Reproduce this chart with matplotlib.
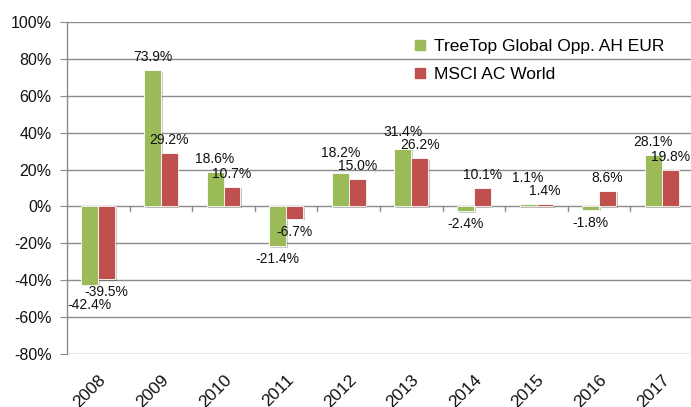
import matplotlib
matplotlib.use("Agg")
import matplotlib.pyplot as plt
import matplotlib.patheffects as pe
from matplotlib.lines import Line2D
import numpy as np

# --- data ---
years = ["2008", "2009", "2010", "2011", "2012", "2013", "2014", "2015", "2016", "2017"]
treetop = [-42.4, 73.9, 18.6, -21.4, 18.2, 31.4, -2.4, 1.1, -1.8, 28.1]
msci = [-39.5, 29.2, 10.7, -6.7, 15.0, 26.2, 10.1, 1.4, 8.6, 19.8]
series_names = ["TreeTop Global Opp. AH EUR", "MSCI AC World"]
y_ticks = [-80, -60, -40, -20, 0, 20, 40, 60, 80, 100]

GREEN = "#9BBB59"
RED = "#C0504D"
GRID = "#8C8C8C"

plt.rcParams['font.family'] = ['Liberation Sans', 'DejaVu Sans']

fig = plt.figure(figsize=(6.91, 4.07), dpi=100)
ax = fig.add_axes([67 / 691, 1 - 354 / 407, 626 / 691, 332 / 407])

x = np.arange(len(years))
w = 0.27
shadow = [pe.SimplePatchShadow(offset=(1.2, -1.2), alpha=0.25), pe.Normal()]
b1 = ax.bar(x - w / 2, treetop, w, color=GREEN, edgecolor="white", linewidth=0.6,
            zorder=3, path_effects=shadow)
b2 = ax.bar(x + w / 2, msci, w, color=RED, edgecolor="white", linewidth=0.6,
            zorder=3, path_effects=shadow)

ax.set_xlim(-0.5, len(years) - 0.5)
ax.set_ylim(-80, 100)
ax.set_yticks(y_ticks)
ax.set_yticklabels([f"{t}%" for t in y_ticks], fontsize=11.5)
ax.yaxis.grid(True, color=GRID, linewidth=1.0, zorder=0)
ax.set_axisbelow(True)

for s in ["top", "right", "bottom"]:
    ax.spines[s].set_visible(False)
ax.spines["left"].set_color(GRID)
ax.spines["left"].set_linewidth(1.0)
ax.tick_params(axis="y", length=5, color=GRID, pad=6, labelcolor="#111111")

ax.set_xticks(x)
ax.set_xticklabels(years, fontsize=12.5, rotation=45, ha="right",
                   rotation_mode="anchor", color="#111111")
ax.tick_params(axis="x", length=0, pad=13)

# category boundary ticks hanging off the zero line
for b in np.arange(0.5, len(years) - 0.5, 1.0):
    ax.plot([b, b], [0, -2.4], color=GRID, linewidth=1.0, zorder=2, clip_on=False)

# data labels, pushing the green one away when it collides with the red one
fig.canvas.draw()
px_per_unit = (ax.transData.transform((0, 1))[1] - ax.transData.transform((0, 0))[1])
base = 13  # px from bar end to label centre
min_gap = 13
for i in range(len(years)):
    g, r = treetop[i], msci[i]
    g_c = g * px_per_unit + np.sign(g) * base
    r_c = r * px_per_unit + np.sign(r) * base
    if np.sign(g) == np.sign(r) and abs(g_c - r_c) < min_gap:
        if g >= 0:
            g_c = max(g_c, r_c + min_gap)
        else:
            g_c = min(g_c, r_c - min_gap)
    for xv, val, c in [(x[i] - w / 2, g, g_c), (x[i] + w / 2, r, r_c)]:
        ax.annotate(f"{val:.1f}%", xy=(xv, 0), xytext=(0, c),
                    textcoords="offset pixels", ha="center", va="center",
                    fontsize=10, color="#111111", zorder=5)

handles = [Line2D([], [], marker="s", linestyle="none", markersize=7,
                  markerfacecolor=GREEN, markeredgecolor=GREEN),
           Line2D([], [], marker="s", linestyle="none", markersize=7,
                  markerfacecolor=RED, markeredgecolor=RED)]
ax.legend(handles, series_names, loc="upper left", bbox_to_anchor=(404 / 691, 1 - 30 / 407),
          bbox_transform=fig.transFigure, frameon=False, fontsize=12.5,
          handlelength=0.8, handletextpad=0.4, labelspacing=0.75, borderpad=0)

fig.savefig("out.png", dpi=100)
